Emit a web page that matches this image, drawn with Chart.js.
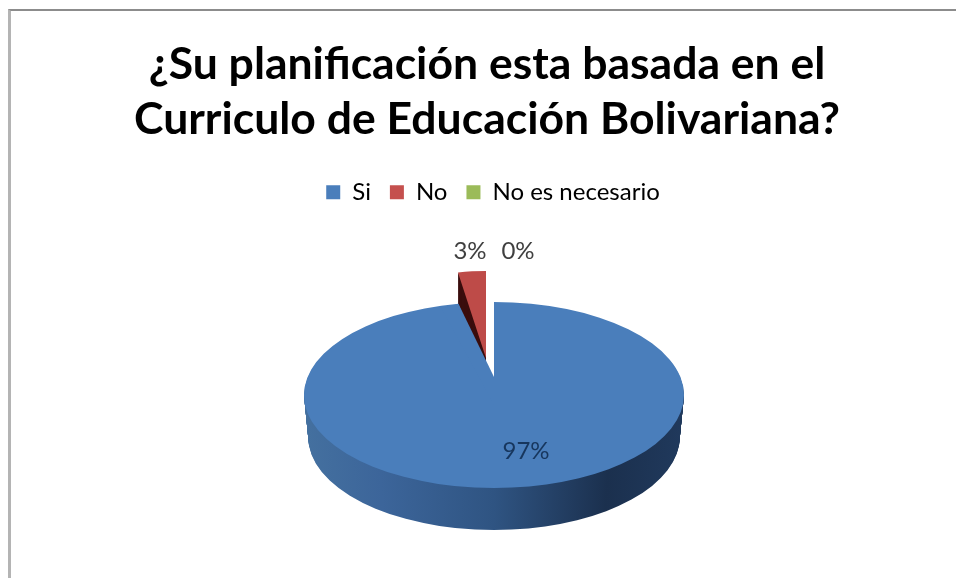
<!DOCTYPE html>
<html>
<head>
<meta charset="utf-8">
<style>
html,body{margin:0;padding:0;background:#fff;width:956px;height:578px;overflow:hidden}
#wrap{position:absolute;left:0;top:0;width:956px;height:578px}
#c{filter:blur(0.4px)}
#frame{position:absolute;left:8px;top:9px;right:0;bottom:0;border-top:2px solid #8c8c8c;border-left:3px solid #b4b4b4;pointer-events:none}
</style>
</head>
<body>
<div id="wrap"><canvas id="c" width="956" height="578"></canvas><div id="frame"></div></div>
<script src="https://cdn.jsdelivr.net/npm/chart.js@4"></script>
<script>
const titleLines = ['¿Su planificación esta basada en el', 'Curriculo de Educación Bolivariana?'];
const categories = ['Si', 'No', 'No es necesario'];
const seriesValues = [97, 3, 0];
const sliceColors = ['#4a7ebb', '#be4b48', '#98b954'];
const legendColors = ['#4a7ebb', '#c5504e', '#9bbb59'];
const depthColors = ['#2f5586', '#3a0e0e', '#5d7035'];

const PIE = {cx: 494, cy: 395, rx: 190, ry: 93, depth: 42, lift: 18};
const RED = {x: 486, y: 358, sx: 0.787, sy: 0.458};
const labelSpots = [{x: 526, y: 451, c: '#17365d'}, {x: 470, y: 251, c: '#404040'}, {x: 518, y: 251, c: '#404040'}];
const LEGEND_SHIFT = 6;

const pie3d = {
  id: 'pie3d',
  afterLayout(chart) {
    chart.legend.left += LEGEND_SHIFT;
    chart.legend.right += LEGEND_SHIFT;
  },
  beforeDatasetDraw(chart, args) {
    const ctx = chart.ctx;
    const arcs = args.meta.data;
    const blue = arcs[0], red = arcs[1];
    const k = PIE.ry / PIE.rx;

    const blueXf = (dy, sx) => {
      ctx.translate(PIE.cx, PIE.cy + dy);
      ctx.scale(sx, k);
      ctx.translate(-blue.x, -blue.y);
    };
    const redXf = (dy) => {
      ctx.translate(RED.x, RED.y + dy);
      ctx.scale(RED.sx, RED.sy);
      ctx.translate(-red.x, -red.y);
    };
    const withColor = (arc, color, fn) => {
      const saved = arc.options;
      arc.options = Object.assign({}, saved, {backgroundColor: color});
      fn();
      arc.options = saved;
    };

    // Extrusion of the pulled-out slice
    withColor(red, depthColors[1], () => {
      for (let d = PIE.depth; d >= 1; d--) {
        ctx.save(); redXf(d); red.draw(ctx); ctx.restore();
      }
    });

    // Extrusion of the main slice, with a left-to-right shade
    const R = blue.outerRadius;
    const grad = ctx.createLinearGradient(blue.x - R, 0, blue.x + R, 0);
    grad.addColorStop(0, '#44709f');
    grad.addColorStop(0.2, '#3c659a');
    grad.addColorStop(0.5, '#2f5482');
    grad.addColorStop(0.8, '#1b304e');
    grad.addColorStop(1, '#20395c');
    withColor(blue, grad, () => {
      for (let d = PIE.depth; d >= 1; d--) {
        const t = d / PIE.depth;
        ctx.save(); blueXf(d, 1 - 0.022 * t); blue.draw(ctx); ctx.restore();
      }
    });

    // Top face of the main slice
    ctx.save();
    blueXf(0, 1);
    blue.draw(ctx);
    // Perspective: the wedge's tip sits above the ellipse centre
    const end = blue.endAngle;
    const lift = PIE.lift / k;
    ctx.beginPath();
    ctx.moveTo(blue.x, blue.y - lift);
    ctx.lineTo(blue.x + R * Math.cos(end) * 0.995, blue.y + R * Math.sin(end) * 0.995);
    ctx.lineTo(blue.x + R * 0.97 * Math.cos(end - 0.1), blue.y + R * 0.97 * Math.sin(end - 0.1));
    ctx.lineTo(blue.x, blue.y + 20);
    ctx.closePath();
    ctx.fillStyle = blue.options.backgroundColor;
    ctx.fill();
    ctx.restore();

    // Top face of the pulled-out slice
    ctx.save(); redXf(0); red.draw(ctx); ctx.restore();

    return false;
  },
  afterDraw(chart) {
    const ctx = chart.ctx;
    const values = chart.data.datasets[0].data;
    const total = values.reduce((a, b) => a + b, 0);
    ctx.save();
    ctx.font = '24px Lato';
    ctx.textAlign = 'center';
    ctx.textBaseline = 'middle';
    values.forEach((v, i) => {
      ctx.fillStyle = labelSpots[i].c;
      ctx.fillText(Math.round(v / total * 100) + '%', labelSpots[i].x, labelSpots[i].y);
    });
    ctx.restore();
  }
};

new Chart(document.getElementById('c'), {
  type: 'pie',
  data: {
    labels: categories,
    datasets: [{
      data: seriesValues,
      backgroundColor: sliceColors,
      borderWidth: 0,
      radius: PIE.rx,
      clip: false
    }]
  },
  options: {
    responsive: false,
    animation: false,
    events: [],
    layout: {padding: {left: 18, right: 0, top: 14, bottom: 0}},
    plugins: {
      title: {
        display: true,
        text: titleLines,
        color: '#000',
        font: {family: 'Lato', size: 44.5, weight: 'bold', lineHeight: 1.24},
        padding: {top: 23, bottom: 14}
      },
      legend: {
        display: true,
        position: 'top',
        labels: {
          boxWidth: 14,
          boxHeight: 14,
          padding: 19,
          color: '#595959',
          font: {family: 'Lato', size: 24},
          generateLabels: () => categories.map((t, i) => ({
            text: t, fillStyle: legendColors[i], strokeStyle: legendColors[i], lineWidth: 0, index: i
          }))
        }
      },
      tooltip: {enabled: false}
    }
  },
  plugins: [pie3d]
});
</script>
</body>
</html>
